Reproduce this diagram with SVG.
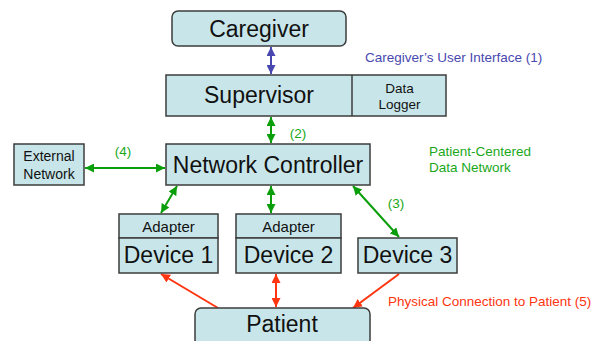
<svg xmlns="http://www.w3.org/2000/svg" width="602" height="341" viewBox="0 0 602 341">
<style>
.box{fill:#c8e6ea;stroke:#3c3c3c;stroke-width:1.5}
text{font-family:"Liberation Sans",Arial,sans-serif;fill:#111}
.big{font-size:23px}
.mid{font-size:15px}
.sm{font-size:14px}
.xs{font-size:13.5px}
.lab{font-size:13.5px}
.g{stroke:#0a9e0a;stroke-width:2;fill:none}
.b{stroke:#4848b0;stroke-width:2;fill:none}
.r{stroke:#ff3510;stroke-width:2;fill:none}
</style>
<defs>
<marker id="ag" viewBox="0 0 10 10" refX="10" refY="5" markerWidth="9" markerHeight="9" markerUnits="userSpaceOnUse" orient="auto-start-reverse"><path d="M0,0 L10,5 L0,10 z" fill="#0a9e0a"/></marker>
<marker id="ab" viewBox="0 0 10 10" refX="10" refY="5" markerWidth="9" markerHeight="9" markerUnits="userSpaceOnUse" orient="auto-start-reverse"><path d="M0,0 L10,5 L0,10 z" fill="#4848b0"/></marker>
<marker id="ar" viewBox="0 0 10 10" refX="10" refY="5" markerWidth="9" markerHeight="9" markerUnits="userSpaceOnUse" orient="auto-start-reverse"><path d="M0,0 L10,5 L0,10 z" fill="#ff3510"/></marker>
</defs>
<g id="connectors">
<line class="b" x1="271" y1="47" x2="271" y2="74" marker-start="url(#ab)" marker-end="url(#ab)"/>
<line class="g" x1="271" y1="117" x2="271" y2="143" marker-start="url(#ag)" marker-end="url(#ag)"/>
<line class="g" x1="85" y1="168" x2="165" y2="168" marker-start="url(#ag)" marker-end="url(#ag)"/>
<line class="g" x1="177" y1="186" x2="161" y2="213" marker-start="url(#ag)" marker-end="url(#ag)"/>
<line class="g" x1="271" y1="186" x2="271" y2="213" marker-start="url(#ag)" marker-end="url(#ag)"/>
<line class="g" x1="353" y1="186" x2="399" y2="237" marker-start="url(#ag)" marker-end="url(#ag)"/>
<line class="r" x1="218" y1="308" x2="161" y2="274" marker-end="url(#ar)"/>
<line class="r" x1="276" y1="274" x2="276" y2="307" marker-start="url(#ar)" marker-end="url(#ar)"/>
<line class="r" x1="399" y1="274" x2="353" y2="308" marker-end="url(#ar)"/>
</g>
<g id="labels">
<text class="lab" x="365" y="62" style="fill:#4848b0">Caregiver’s User Interface (1)</text>
<text class="lab" x="298" y="138" text-anchor="middle" style="fill:#1aa81a">(2)</text>
<text class="lab" x="123" y="156" text-anchor="middle" style="fill:#1aa81a">(4)</text>
<text class="lab" x="396" y="208" text-anchor="middle" style="fill:#1aa81a">(3)</text>
<text class="lab" x="429" y="156" style="fill:#1aa81a">Patient-Centered</text>
<text class="lab" x="429" y="172" style="fill:#1aa81a">Data Network</text>
<text class="lab" x="388" y="306" style="fill:#ff3510">Physical Connection to Patient (5)</text>
</g>
<g id="caregiver">
<rect class="box" x="172" y="11" width="174" height="35" rx="6"/>
<text class="big" x="259" y="37" text-anchor="middle">Caregiver</text>
</g>
<g id="supervisor">
<rect class="box" x="166" y="75" width="280" height="41"/>
<line x1="352" y1="75" x2="352" y2="116" stroke="#3c3c3c" stroke-width="1.5"/>
<text class="big" x="259" y="103" text-anchor="middle">Supervisor</text>
<text class="xs" x="399.5" y="93" text-anchor="middle">Data</text>
<text class="xs" x="399.5" y="108.5" text-anchor="middle">Logger</text>
</g>
<g id="network-controller">
<rect class="box" x="166" y="144" width="204" height="41"/>
<text class="big" x="268" y="173" text-anchor="middle">Network Controller</text>
</g>
<g id="external-network">
<rect class="box" x="14" y="144" width="70" height="41"/>
<text class="sm" x="49" y="161" text-anchor="middle">External</text>
<text class="sm" x="49" y="179" text-anchor="middle">Network</text>
</g>
<g id="device1">
<rect class="box" x="119" y="214" width="99" height="24"/>
<rect class="box" x="119" y="238" width="99" height="35"/>
<text class="mid" x="168.5" y="232" text-anchor="middle">Adapter</text>
<text class="big" x="168.5" y="263" text-anchor="middle">Device 1</text>
</g>
<g id="device2">
<rect class="box" x="236" y="214" width="105" height="24"/>
<rect class="box" x="236" y="238" width="105" height="35"/>
<text class="mid" x="288.5" y="232" text-anchor="middle">Adapter</text>
<text class="big" x="288.5" y="263" text-anchor="middle">Device 2</text>
</g>
<g id="device3">
<rect class="box" x="358" y="238" width="99" height="35"/>
<text class="big" x="407.5" y="263" text-anchor="middle">Device 3</text>
</g>
<g id="patient">
<rect class="box" x="195" y="308" width="175" height="45" rx="6"/>
<text class="big" x="282" y="332" text-anchor="middle">Patient</text>
</g>
</svg>
